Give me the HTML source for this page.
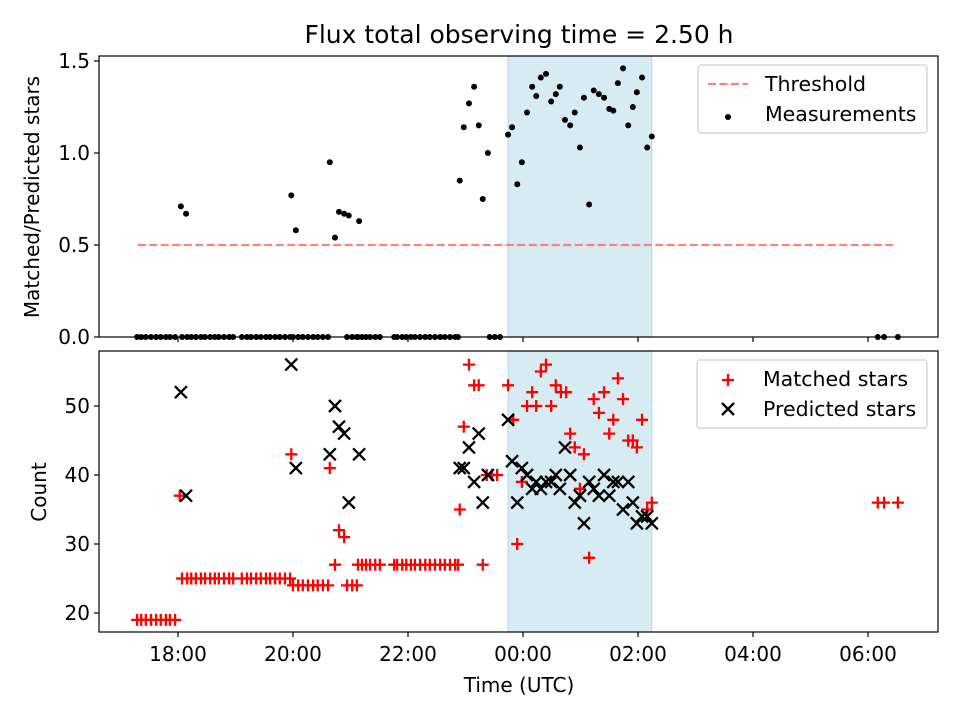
<!DOCTYPE html>
<html><head><meta charset="utf-8"><style>
html,body{margin:0;padding:0;background:#fff;}
svg{display:block;font-family:"DejaVu Sans","Liberation Sans",sans-serif;}
</style></head><body>
<svg id="chart" width="960" height="720" viewBox="0 0 960 720">
<rect width="960" height="720" fill="#fff"/>
<text x="519" y="43" font-size="25" text-anchor="middle">Flux total observing time = 2.50 h</text>
<g id="topPanel"></g>
<g id="botPanel"></g>
</svg>
<script>
// hours relative to 18:00 UTC
const baseTimes19 = [-0.71,-0.64,-0.56,-0.47,-0.38,-0.30,-0.21,-0.14,-0.05];
const baseTimes25 = [0.07,0.16,0.23,0.31,0.40,0.47,0.56,0.64,0.71,0.80,0.89,0.96,1.11,1.20,1.27,1.36,1.44,1.53,1.60,1.69,1.77,1.86,1.95];
const baseTimes24 = [2.00,2.09,2.17,2.26,2.35,2.43,2.52,2.61,2.94,3.03,3.11];
const baseTimes27 = [3.13,3.20,3.27,3.34,3.43,3.51,3.76,3.81,3.90,3.97,4.05,4.12,4.21,4.30,4.38,4.47,4.56,4.64,4.73,4.82,4.87];
const baseTimes36 = [12.17,12.28,12.52];
const extraZeroTimes = [5.42,5.51,5.60];

const measTimes = [0.05,0.14,1.97,2.05,2.64,2.73,2.80,2.89,2.97,3.15,4.90,4.97,5.06,5.15,5.23,5.30,5.39,5.74,5.81,5.90,5.98,6.07,6.16,6.23,6.31,6.40,6.49,6.57,6.64,6.73,6.82,6.90,6.99,7.06,7.15,7.23,7.32,7.41,7.50,7.57,7.65,7.74,7.83,7.91,7.98,8.07,8.16,8.24];
const measRatios = [0.71,0.67,0.77,0.58,0.95,0.54,0.68,0.67,0.66,0.63,0.85,1.14,1.27,1.36,1.15,0.75,1.00,1.10,1.14,0.83,0.95,1.22,1.36,1.31,1.41,1.43,1.28,1.32,1.36,1.18,1.15,1.22,1.03,1.30,0.72,1.34,1.32,1.30,1.24,1.23,1.38,1.46,1.15,1.25,1.33,1.41,1.03,1.09];

const matchTimes = [0.03,1.97,2.64,2.73,2.80,2.89,4.90,4.97,5.06,5.15,5.23,5.30,5.37,5.46,5.55,5.74,5.83,5.90,5.98,6.07,6.16,6.23,6.31,6.40,6.49,6.57,6.66,6.75,6.82,6.90,6.99,7.06,7.15,7.23,7.32,7.41,7.50,7.57,7.65,7.74,7.83,7.91,7.98,8.07,8.16,8.24];
const matchCounts = [37,43,41,27,32,31,35,47,56,53,53,27,40,40,40,53,48,30,39,50,52,50,55,56,50,53,52,52,46,44,38,43,28,51,49,52,46,48,54,51,45,45,44,48,35,36];

const predTimes = [0.05,0.14,1.97,2.05,2.64,2.73,2.80,2.89,2.97,3.15,4.90,4.97,5.06,5.15,5.23,5.30,5.39,5.74,5.81,5.90,5.98,6.07,6.16,6.23,6.31,6.40,6.49,6.57,6.64,6.73,6.82,6.90,6.99,7.06,7.15,7.23,7.32,7.41,7.50,7.57,7.65,7.74,7.83,7.91,7.98,8.07,8.16,8.24];
const predCounts = [52,37,56,41,43,50,47,46,36,43,41,41,44,39,46,36,40,48,42,36,41,40,38,39,38,39,39,40,38,44,40,36,37,33,39,38,37,40,37,39,39,35,39,36,33,34,34,33];

const xTickHours = [0,2,4,6,8,10,12];
const xTickLabels = ["18:00","20:00","22:00","00:00","02:00","04:00","06:00"];
const topTicks = [0.0,0.5,1.0,1.5];
const botTicks = [20,30,40,50];
const threshold = 0.5, threshStart = -0.7, threshEnd = 12.47;
const obsStart = 5.74, obsEnd = 8.24;

const NS = "http://www.w3.org/2000/svg";
const L = 99, R = 938;
const FS = 20;
const xS = h => 178 + h * 57.5;
const yTop = v => 337 - v * 184;
const yBot = v => 613 - (v - 20) * 6.9;
function el(tag, attrs, parent) {
  const e = document.createElementNS(NS, tag);
  for (const k in attrs) e.setAttribute(k, attrs[k]);
  parent.appendChild(e); return e;
}
const topG = document.getElementById('topPanel'), botG = document.getElementById('botPanel');

function frame(g, y0, y1, name) {
  const s = el('rect', {x: xS(obsStart), y: y0, width: xS(obsEnd) - xS(obsStart), height: y1 - y0, fill: '#add8e6', 'fill-opacity': 0.5, stroke: '#add8e6'}, g);
  
  
  return s;
}
function axesBox(g, y0, y1, name) {
  const b = el('rect', {x: L, y: y0, width: R - L, height: y1 - y0, fill: 'none', stroke: '#000', 'stroke-width': 1.2}, g);
  
  
  xTickHours.forEach((h, i) => {
    el('line', {x1: xS(h), x2: xS(h), y1: y1, y2: y1 + 5, stroke: '#000', 'stroke-width': 1.2}, g);
  });
}
function yAxis(g, ticks, sc, fmt, name) {
  ticks.forEach(v => {
    el('line', {x1: L - 5, x2: L, y1: sc(v), y2: sc(v), stroke: '#000', 'stroke-width': 1.2}, g);
    const t = el('text', {x: L - 9, y: sc(v) + 7, 'font-size': FS, 'text-anchor': 'end'}, g);
    t.textContent = fmt(v);
    
    
  });
}

// TOP PANEL
frame(topG, 56, 337, 'top');
const tl = el('line', {x1: xS(threshStart), x2: xS(threshEnd), y1: yTop(threshold), y2: yTop(threshold), stroke: '#ff7f7f', 'stroke-width': 2.2, 'stroke-dasharray': '8,3.5'}, topG);


const zeroTimes = [].concat(baseTimes19, baseTimes25, baseTimes24, baseTimes27, extraZeroTimes, baseTimes36);
zeroTimes.forEach(h => {
  const c = el('circle', {cx: xS(h), cy: yTop(0), r: 3, fill: '#000'}, topG);
  
  
});
measTimes.forEach((h, i) => {
  const c = el('circle', {cx: xS(h), cy: yTop(measRatios[i]), r: 3, fill: '#000'}, topG);
  
  
});
axesBox(topG, 56, 337, 'top');
yAxis(topG, topTicks, yTop, v => v.toFixed(1), 'top-y');
const yl1 = el('text', {x: 0, y: 0, 'font-size': FS, 'text-anchor': 'middle', transform: 'translate(39,197) rotate(-90)'}, topG);
yl1.textContent = 'Matched/Predicted stars';



// BOTTOM PANEL
frame(botG, 351, 632, 'bottom');
function plus(x, y, g) {
  const p = el('path', {d: `M${x-6},${y}H${x+6}M${x},${y-6}V${y+6}`, stroke: '#ff0000', 'stroke-width': 2.3}, g);
  
  
}
function cross(x, y, g) {
  const p = el('path', {d: `M${x-6},${y-6}L${x+6},${y+6}M${x-6},${y+6}L${x+6},${y-6}`, stroke: '#000', 'stroke-width': 2.3}, g);
  
  
}
baseTimes19.forEach(h => plus(xS(h), yBot(19), botG));
baseTimes25.forEach(h => plus(xS(h), yBot(25), botG));
baseTimes24.forEach(h => plus(xS(h), yBot(24), botG));
baseTimes27.forEach(h => plus(xS(h), yBot(27), botG));
baseTimes36.forEach(h => plus(xS(h), yBot(36), botG));
matchTimes.forEach((h, i) => plus(xS(h), yBot(matchCounts[i]), botG));
predTimes.forEach((h, i) => cross(xS(h), yBot(predCounts[i]), botG));
axesBox(botG, 351, 632, 'bottom');
yAxis(botG, botTicks, yBot, v => String(v), 'bottom-y');
xTickHours.forEach((h, i) => {
  const t = el('text', {x: xS(h), y: 661, 'font-size': FS, 'text-anchor': 'middle'}, botG);
  t.textContent = xTickLabels[i];
  
  
});
const xl = el('text', {x: 519, y: 692, 'font-size': FS, 'text-anchor': 'middle'}, botG);
xl.textContent = 'Time (UTC)';


const yl2 = el('text', {x: 0, y: 0, 'font-size': FS, 'text-anchor': 'middle', transform: 'translate(46,492) rotate(-90)'}, botG);
yl2.textContent = 'Count';



// LEGENDS
function legendBox(x, y, w, h, name) {
  const g = el('g', {}, document.getElementById('chart'));
  
  
  el('rect', {x: x, y: y, width: w, height: h, rx: 3, fill: '#fff', 'fill-opacity': 0.8, stroke: '#ccc', 'stroke-width': 1.2}, g);
  return g;
}
const lg1 = legendBox(698, 65, 229, 68, 'top-legend');
el('line', {x1: 708, x2: 748, y1: 84, y2: 84, stroke: '#ff7f7f', 'stroke-width': 2.2, 'stroke-dasharray': '8,3.5'}, lg1);
const lt1 = el('text', {x: 765, y: 91, 'font-size': 20.5}, lg1); lt1.textContent = 'Threshold';


el('circle', {cx: 728, cy: 117, r: 3, fill: '#000'}, lg1);
const lt2 = el('text', {x: 765, y: 121, 'font-size': 20.5}, lg1); lt2.textContent = 'Measurements';



const lg2 = legendBox(697, 360, 230, 68, 'bottom-legend');
plus(728, 380, lg2);
const lt3 = el('text', {x: 763, y: 386, 'font-size': 20.5}, lg2); lt3.textContent = 'Matched stars';


cross(728, 409, lg2);
const lt4 = el('text', {x: 763, y: 416, 'font-size': 20.5}, lg2); lt4.textContent = 'Predicted stars';


</script>
</body></html>
